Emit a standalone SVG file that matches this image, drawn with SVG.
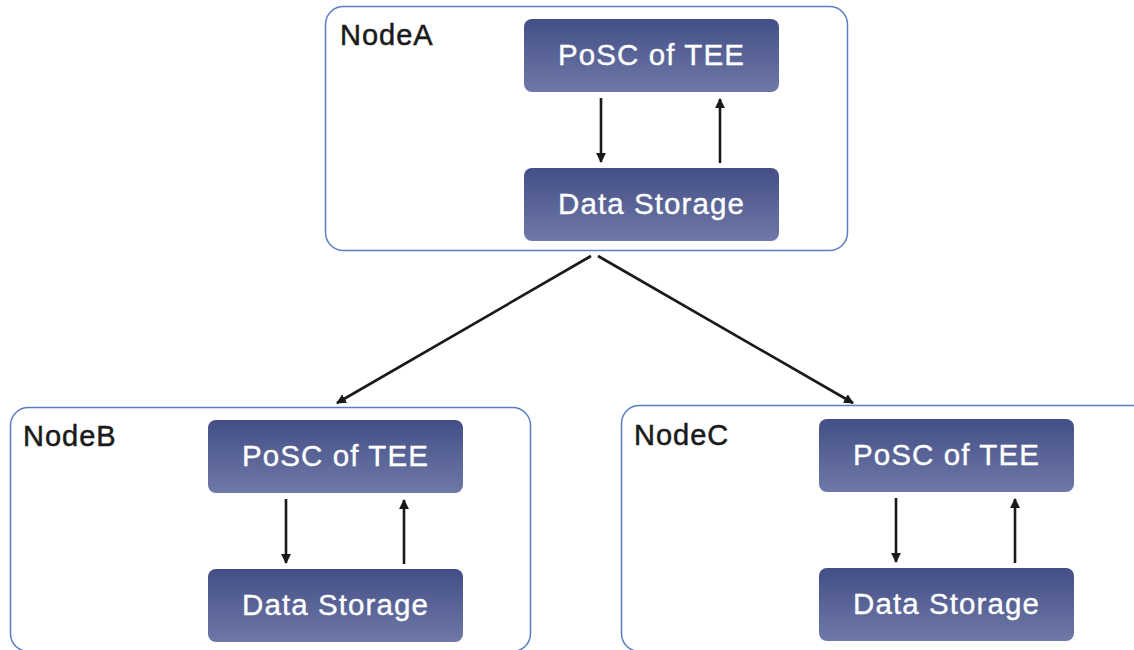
<svg xmlns="http://www.w3.org/2000/svg" width="1134" height="650" viewBox="0 0 1134 650">
<style>
.container{fill:#ffffff;stroke:#5b7dc6;stroke-width:1.5}
.box{fill:url(#g);}
.lbl{font-family:"Liberation Sans",Arial,sans-serif;font-size:29px;fill:#1a1a1a;stroke:#1a1a1a;stroke-width:0.5;letter-spacing:1px}
.txt{font-family:"Liberation Sans",Arial,sans-serif;font-size:29.5px;fill:#ffffff;stroke:#ffffff;stroke-width:0.35;text-anchor:middle;letter-spacing:1.1px}
.arr{stroke:#1a1a1a;stroke-width:2.6;fill:none;marker-end:url(#ah)}
.diag{stroke:#1a1a1a;stroke-width:2.6;fill:none;marker-end:url(#ah)}
</style>
<defs>
<linearGradient id="g" x1="0" y1="0" x2="0" y2="1">
<stop offset="0" stop-color="#434e86"/>
<stop offset="1" stop-color="#6f79a7"/>
</linearGradient>
<marker id="ah" viewBox="0 0 10 10" refX="9" refY="5" markerWidth="3.8" markerHeight="3.8" orient="auto" markerUnits="strokeWidth">
<path d="M0,0 L10,5 L0,10 Z" fill="#1a1a1a"/>
</marker>
</defs>
<g id="nodeA">
<rect class="container" x="325.5" y="6.5" width="522" height="244" rx="18"/>
<text class="lbl" x="340" y="45">NodeA</text>
<g id="nodeA-posc"><rect class="box" x="524" y="19" width="255" height="73" rx="8"/><text class="txt" x="651.5" y="65">PoSC of TEE</text></g>
<g id="nodeA-ds"><rect class="box" x="524" y="168" width="255" height="73" rx="8"/><text class="txt" x="651.5" y="214">Data Storage</text></g>
</g>
<g id="nodeB">
<rect class="container" x="10.5" y="407.5" width="520" height="244" rx="18"/>
<text class="lbl" x="23" y="446">NodeB</text>
<g id="nodeB-posc"><rect class="box" x="208" y="420" width="255" height="73" rx="8"/><text class="txt" x="335.5" y="466">PoSC of TEE</text></g>
<g id="nodeB-ds"><rect class="box" x="208" y="569" width="255" height="73" rx="8"/><text class="txt" x="335.5" y="615">Data Storage</text></g>
</g>
<g id="nodeC">
<rect class="container" x="621.5" y="405.5" width="530" height="246" rx="18"/>
<text class="lbl" x="634" y="445">NodeC</text>
<g id="nodeC-posc"><rect class="box" x="819" y="419" width="255" height="73" rx="8"/><text class="txt" x="946.5" y="465">PoSC of TEE</text></g>
<g id="nodeC-ds"><rect class="box" x="819" y="568" width="255" height="73" rx="8"/><text class="txt" x="946.5" y="614">Data Storage</text></g>
</g>
<g id="connectors">
<line class="arr" x1="601" y1="98" x2="601" y2="162"/>
<line class="arr" x1="720" y1="163" x2="720" y2="99"/>
<line class="arr" x1="286" y1="499" x2="286" y2="563"/>
<line class="arr" x1="404" y1="564" x2="404" y2="500"/>
<line class="arr" x1="896" y1="498" x2="896" y2="562"/>
<line class="arr" x1="1015" y1="563" x2="1015" y2="499"/>
<line class="diag" x1="591" y1="256" x2="337" y2="403"/>
<line class="diag" x1="598" y1="256" x2="853" y2="403"/>
</g>
</svg>
